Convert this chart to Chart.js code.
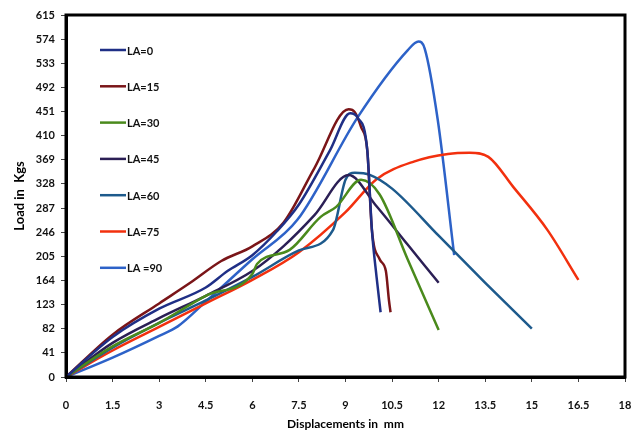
<!DOCTYPE html>
<html>
<head>
<meta charset="utf-8">
<script src="https://cdn.jsdelivr.net/npm/chart.js@4.4.1/dist/chart.umd.min.js"></script>
<style>
html,body{margin:0;padding:0;background:#fff;}
#wrap{position:relative;width:634px;height:435px;}
</style>
</head>
<body>
<div id="wrap"><canvas id="c" width="634" height="435"></canvas></div>
<script>
const seriesLabels = ["LA=0","LA=15","LA=30","LA=45","LA=60","LA=75","LA =90"];
const xTicks = [0,1.5,3,4.5,6,7.5,9,10.5,12,13.5,15,16.5,18];
const yTicks = [0,41,82,123,164,205,246,287,328,369,410,451,492,533,574,615];

const la0X  = [0,1.5,3,4.5,5.2,6,6.8,7.5,8.5,9.15,9.4,9.7,9.85,10.0,10.13];
const la0Y  = [0,68,116,152,180,207,248,293,385,448,440,386,250,170,110];
const la15X = [0,1.5,3,4,5,6,7,8,9.1,9.3,9.5,9.7,9.85,10.1,10.3,10.4,10.45];
const la15Y = [0,72,125,160,197,222,262,355,455,450,425,386,250,200,180,130,110];
const la30X = [0,1.5,3,4.5,6,6.15,7.2,8.2,8.7,9.5,10.1,11,12];
const la30Y = [0,52,92,138,175,192,216,272,289,335,310,200,80];
const la45X = [0,1.5,3,4.5,6,7,8,9.1,10,11,12];
const la45Y = [0,58,100,138,180,222,275,343,290,225,160];
const la60X = [0,1.5,3,4.5,6,7.5,8.6,9.0,9.3,9.8,10.5,12,13.5,15];
const la60Y = [0,50,92,130,170,215,250,335,347,343,320,240,160,82];
const la75X = [0,1.5,3,4.5,6,7.5,9,10,11.2,12.3,13,13.6,14.4,15.5,16.5];
const la75Y = [0,45,85,125,165,212,280,336,366,379,381,374,323,250,165];
const la90X = [0,1.5,3,3.6,4.5,6,7.45,9.4,11.0,11.35,11.55,11.97,12.5];
const la90Y = [0,33,70,86,128,200,267,442,555,570,558,437,207];

const seriesX = [la0X,la15X,la30X,la45X,la60X,la75X,la90X];
const seriesY = [la0Y,la15Y,la30Y,la45Y,la60Y,la75Y,la90Y];
const colors = ["#1f2f86","#7a1518","#4a8a1c","#2b1f55","#1d5a8c","#f2300e","#2d62c8"];

const datasets = seriesLabels.map((lab,i)=>({
  label: lab,
  data: seriesX[i].map((x,j)=>({x:x,y:seriesY[i][j]})),
  borderColor: colors[i],
  backgroundColor: colors[i],
  borderWidth: 2.5,
  pointRadius: 0,
  showLine: true,
  fill: false,
  cubicInterpolationMode: 'monotone'
}));

const FONT = "Lato, 'Open Sans', sans-serif";

const framePlugin = {
  id: 'frame',
  afterDraw(chart){
    const {ctx, chartArea:a} = chart;
    ctx.save();
    ctx.strokeStyle = '#000';
    ctx.lineWidth = 3;
    ctx.strokeRect(a.left, a.top, a.right - a.left, a.bottom - a.top);
    ctx.font = "bold 11px " + FONT;
    ctx.textBaseline = 'middle';
    ctx.textAlign = 'left';
    chart.data.datasets.forEach((ds,i)=>{
      const y = 50 + i*36.3;
      ctx.strokeStyle = ds.borderColor;
      ctx.lineWidth = 2.5;
      ctx.beginPath();
      ctx.moveTo(100, y);
      ctx.lineTo(126, y);
      ctx.stroke();
      ctx.fillStyle = '#111';
      ctx.fillText(ds.label, 127, y + 1);
    });
    ctx.restore();
  }
};

new Chart(document.getElementById('c'), {
  type: 'scatter',
  data: { datasets },
  options: {
    responsive: false,
    animation: false,
    layout: { padding: { top: 15, right: 9, left: 0, bottom: 0 } },
    plugins: { legend: { display: false }, tooltip: { enabled: false } },
    scales: {
      x: {
        type: 'linear', min: 0, max: 18,
        afterBuildTicks(s){ s.ticks = xTicks.map(v=>({value:v})); },
        afterFit(s){ s.height = 58; s.paddingRight = 0; s.paddingLeft = 0; },
        grid: { display: true, drawOnChartArea: false, drawTicks: true, tickLength: 5, color: '#444', lineWidth: 1 },
        border: { display: true, color: '#000', width: 3 },
        ticks: { padding: 17, color: '#111', font: { family: FONT, size: 11, weight: 'bold' }, maxRotation: 0,
                 callback: v => String(v) },
        title: { display: true, text: 'Displacements in  mm', color: '#000', font: { family: FONT, size: 12, weight: 'bold' }, padding: { top: 0, bottom: 4 } }
      },
      y: {
        type: 'linear', min: 0, max: 615,
        afterBuildTicks(s){ s.ticks = yTicks.map(v=>({value:v})); },
        afterFit(s){ s.width = 66; },
        grid: { display: true, drawOnChartArea: false, drawTicks: true, tickLength: 5, color: '#444', lineWidth: 1 },
        border: { display: true, color: '#000', width: 3 },
        ticks: { padding: 6, color: '#111', font: { family: FONT, size: 11, weight: 'bold' }, callback: v => String(v) },
        title: { display: true, text: 'Load in  Kgs', color: '#000', font: { family: FONT, size: 13, weight: 'bold' }, padding: { top: 12, bottom: 0 } }
      }
    }
  },
  plugins: [framePlugin]
});
</script>
</body>
</html>
